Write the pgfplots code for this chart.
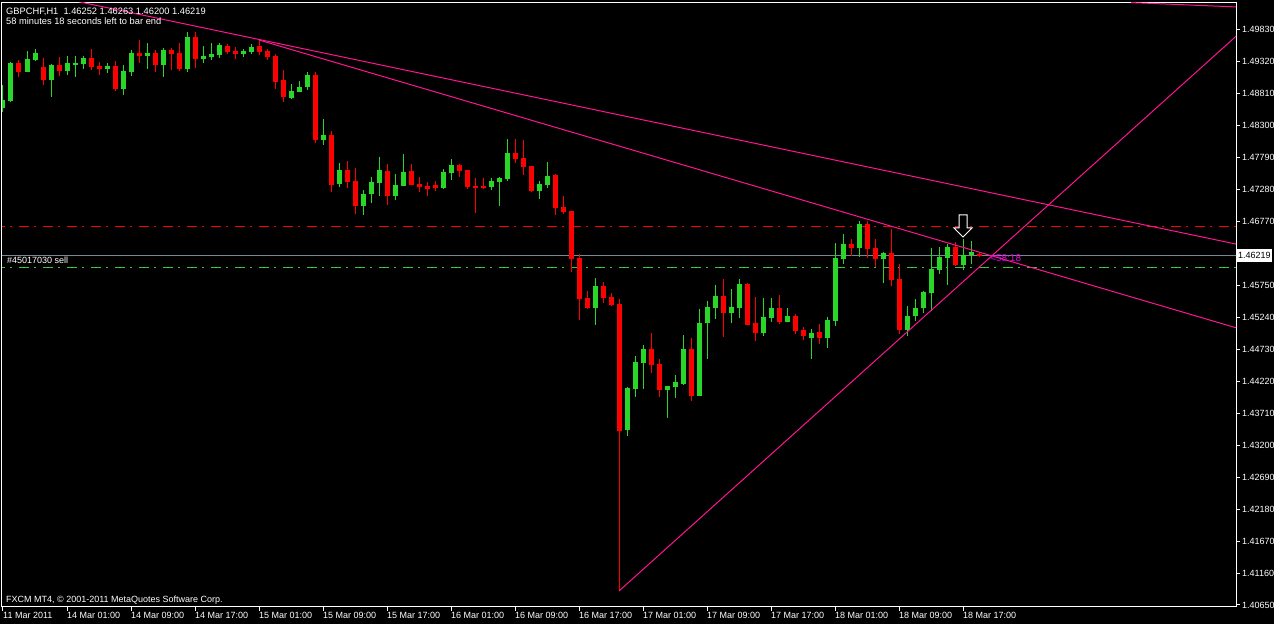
\documentclass[border=0pt]{standalone}
\usepackage{pgfplots}
\usepackage{pgfplotstable}
\pgfplotsset{compat=1.18}
\usepackage{fontspec}
\setmainfont{Liberation Sans}

\definecolor{bull}{RGB}{40,215,40}
\definecolor{bear}{RGB}{255,0,0}
\definecolor{trend}{RGB}{255,20,147}
\definecolor{bidline}{RGB}{119,136,153}
\definecolor{orderline}{RGB}{50,205,50}
\definecolor{timer}{RGB}{225,0,225}

% GBPCHF H1 bars: index, open, high, low, close
\pgfplotstableread{
i o h l c
0 1.48575 1.48942 1.48511 1.48702
1 1.48687 1.49308 1.48671 1.49292
2 1.49292 1.49340 1.49069 1.49149
3 1.49149 1.49484 1.49149 1.49356
4 1.49340 1.49516 1.49324 1.49452
5 1.49229 1.49372 1.48942 1.49021
6 1.49021 1.49277 1.48750 1.49261
7 1.49261 1.49388 1.49085 1.49165
8 1.49165 1.49404 1.49101 1.49292
9 1.49277 1.49404 1.49069 1.49292
10 1.49277 1.49404 1.49197 1.49372
11 1.49372 1.49516 1.49181 1.49229
12 1.49245 1.49308 1.49101 1.49197
13 1.49197 1.49292 1.49133 1.49245
14 1.49245 1.49324 1.48846 1.48878
15 1.48878 1.49261 1.48782 1.49165
16 1.49149 1.49500 1.49085 1.49452
17 1.49452 1.49659 1.49292 1.49404
18 1.49404 1.49611 1.49197 1.49452
19 1.49452 1.49500 1.49149 1.49261
20 1.49261 1.49532 1.49069 1.49500
21 1.49500 1.49532 1.49181 1.49436
22 1.49452 1.49611 1.49165 1.49197
23 1.49197 1.49787 1.49149 1.49707
24 1.49707 1.49787 1.49213 1.49356
25 1.49356 1.49564 1.49292 1.49404
26 1.49388 1.49611 1.49340 1.49436
27 1.49420 1.49611 1.49372 1.49579
28 1.49564 1.49595 1.49436 1.49468
29 1.49484 1.49548 1.49356 1.49436
30 1.49436 1.49516 1.49388 1.49484
31 1.49468 1.49595 1.49436 1.49548
32 1.49564 1.49659 1.49420 1.49468
33 1.49484 1.49516 1.49340 1.49388
34 1.49404 1.49436 1.48878 1.48989
35 1.49021 1.49181 1.48671 1.48750
36 1.48734 1.48958 1.48718 1.48846
37 1.48830 1.49005 1.48830 1.48910
38 1.48910 1.49149 1.48862 1.49101
39 1.49101 1.49149 1.48017 1.48065
40 1.48065 1.48399 1.47985 1.48144
41 1.48144 1.48208 1.47235 1.47347
42 1.47363 1.47698 1.47315 1.47586
43 1.47586 1.47730 1.47299 1.47395
44 1.47411 1.47618 1.46885 1.47012
45 1.47012 1.47267 1.46869 1.47204
46 1.47204 1.47475 1.47060 1.47395
47 1.47379 1.47794 1.47172 1.47586
48 1.47570 1.47682 1.47028 1.47172
49 1.47172 1.47522 1.47108 1.47347
50 1.47331 1.47841 1.47331 1.47554
51 1.47570 1.47682 1.47347 1.47347
52 1.47363 1.47475 1.47235 1.47315
53 1.47331 1.47395 1.47172 1.47283
54 1.47347 1.47411 1.47251 1.47299
55 1.47299 1.47602 1.47283 1.47554
56 1.47538 1.47762 1.47427 1.47666
57 1.47666 1.47682 1.47475 1.47570
58 1.47586 1.47586 1.47283 1.47315
59 1.47331 1.47459 1.46901 1.47315
60 1.47331 1.47459 1.47283 1.47299
61 1.47315 1.47459 1.47267 1.47411
62 1.47395 1.47475 1.47012 1.47459
63 1.47443 1.48081 1.47411 1.47857
64 1.47857 1.48081 1.47698 1.47762
65 1.47778 1.48065 1.47506 1.47634
66 1.47650 1.47650 1.47235 1.47251
67 1.47251 1.47411 1.47124 1.47363
68 1.47347 1.47714 1.47299 1.47491
69 1.47506 1.47522 1.46869 1.46980
70 1.46996 1.47172 1.46885 1.46916
71 1.46932 1.46932 1.45960 1.46167
72 1.46183 1.46247 1.45194 1.45529
73 1.45545 1.45657 1.45370 1.45386
74 1.45386 1.45864 1.45115 1.45736
75 1.45736 1.45800 1.45465 1.45545
76 1.45561 1.45625 1.45418 1.45434
77 1.45449 1.45529 1.40873 1.43424
78 1.43440 1.44126 1.43345 1.44110
79 1.44094 1.44620 1.43966 1.44525
80 1.44509 1.44796 1.44094 1.44732
81 1.44732 1.44987 1.44349 1.44477
82 1.44493 1.44572 1.43966 1.44078
83 1.44078 1.44142 1.43632 1.44142
84 1.44126 1.44317 1.43951 1.44206
85 1.44174 1.44955 1.44158 1.44732
86 1.44732 1.44907 1.43903 1.43982
87 1.43982 1.45370 1.43982 1.45146
88 1.45146 1.45497 1.44572 1.45402
89 1.45386 1.45752 1.45210 1.45577
90 1.45577 1.45848 1.44923 1.45306
91 1.45306 1.45689 1.45146 1.45402
92 1.45386 1.45848 1.45226 1.45768
93 1.45768 1.45784 1.45115 1.45115
94 1.45146 1.45561 1.44859 1.44987
95 1.44987 1.45545 1.44939 1.45242
96 1.45226 1.45545 1.45162 1.45386
97 1.45386 1.45593 1.45130 1.45162
98 1.45162 1.45386 1.45162 1.45258
99 1.45258 1.45290 1.44971 1.45019
100 1.45035 1.45083 1.44875 1.44939
101 1.44907 1.45051 1.44572 1.44987
102 1.45003 1.45130 1.44812 1.44907
103 1.44907 1.45242 1.44748 1.45194
104 1.45178 1.46422 1.45099 1.46183
105 1.46167 1.46566 1.46087 1.46406
106 1.46406 1.46486 1.46215 1.46342
107 1.46342 1.46773 1.46199 1.46725
108 1.46725 1.46773 1.46183 1.46326
109 1.46342 1.46486 1.46039 1.46167
110 1.46167 1.46279 1.45784 1.46263
111 1.46263 1.46645 1.45736 1.45832
112 1.45848 1.46087 1.44971 1.45035
113 1.45035 1.45418 1.44939 1.45258
114 1.45258 1.45529 1.45178 1.45386
115 1.45386 1.45657 1.45306 1.45641
116 1.45625 1.46342 1.45338 1.46008
117 1.45992 1.46358 1.45928 1.46199
118 1.46183 1.46406 1.45752 1.46358
119 1.46358 1.46438 1.46055 1.46071
120 1.46071 1.46486 1.45992 1.46231
121 1.46231 1.46454 1.46087 1.46279
122 1.46252 1.46263 1.46200 1.46219
}\candles

\begin{document}
\begin{tikzpicture}[font=\fontsize{9}{10}\selectfont]
\path[use as bounding box, fill=black] (0,0) rectangle (1274pt,624pt);
\begin{axis}[
    at={(2pt,17.5pt)}, anchor=south west,
    scale only axis,
    width=1234pt, height=604pt,
    xmin=-0.125, xmax=154.125,
    ymin=1.40626, ymax=1.50257,
    axis line style={white, line width=1pt},
    tick align=outside,
    major tick length=4pt,
    tick style={white, line width=1pt},
    xtick pos=left,
    ytick pos=right,
    yticklabel pos=right,
    xtick={0,8,...,120},
    xticklabels={11 Mar 2011, 14 Mar 01:00, 14 Mar 09:00, 14 Mar 17:00, 15 Mar 01:00, 15 Mar 09:00, 15 Mar 17:00, 16 Mar 01:00, 16 Mar 09:00, 16 Mar 17:00, 17 Mar 01:00, 17 Mar 09:00, 17 Mar 17:00, 18 Mar 01:00, 18 Mar 09:00, 18 Mar 17:00},
    ytick={1.40650,1.41160,1.41670,1.42180,1.42690,1.43200,1.43710,1.44220,1.44730,1.45240,1.45750,1.46770,1.47280,1.47790,1.48300,1.48810,1.49320,1.49830},
    yticklabels={1.40650,1.41160,1.41670,1.42180,1.42690,1.43200,1.43710,1.44220,1.44730,1.45240,1.45750,1.46770,1.47280,1.47790,1.48300,1.48810,1.49320,1.49830},
    xticklabel style={white, anchor=north west, inner sep=0pt, yshift=-2pt},
    yticklabel style={white, anchor=west, inner sep=0pt, xshift=2pt},
    candle/.style={draw=none, mark=none,
        error bars/.cd, y dir=both, y explicit, error mark=none,
        error bar style={draw=#1, solid}},
]
% order lines
\addplot[bear, line width=1pt, dash pattern=on 10pt off 5pt on 2pt off 7pt] coordinates {(-1,1.46688) (155,1.46688)};
\addplot[orderline, line width=1pt, dash pattern=on 10pt off 5pt on 2pt off 7pt] coordinates {(-1,1.46035) (155,1.46035)};
\addplot[bidline, line width=1pt] coordinates {(-1,1.46219) (155,1.46219)};

% wicks
\addplot[x filter/.expression={\thisrow{c}>=\thisrow{o} ? x : nan},
    candle=bull, error bar style={line width=1pt}]
    table[x=i, y expr={(\thisrow{h}+\thisrow{l})/2}, y error expr={(\thisrow{h}-\thisrow{l})/2}] {\candles};
\addplot[x filter/.expression={\thisrow{c}<\thisrow{o} ? x : nan},
    candle=bear, error bar style={line width=1pt}]
    table[x=i, y expr={(\thisrow{h}+\thisrow{l})/2}, y error expr={(\thisrow{h}-\thisrow{l})/2}] {\candles};
% bodies
\addplot[x filter/.expression={\thisrow{c}>=\thisrow{o} ? x : nan},
    candle=bull, error bar style={line width=5pt}]
    table[x=i, y expr={(\thisrow{o}+\thisrow{c})/2}, y error expr={max(abs(\thisrow{c}-\thisrow{o})/2,0.00004)}] {\candles};
\addplot[x filter/.expression={\thisrow{c}<\thisrow{o} ? x : nan},
    candle=bear, error bar style={line width=5pt}]
    table[x=i, y expr={(\thisrow{o}+\thisrow{c})/2}, y error expr={max(abs(\thisrow{c}-\thisrow{o})/2,0.00004)}] {\candles};

% trend lines
\addplot[trend, line width=1pt] coordinates {(-2,1.50576) (156,1.46355)};
\addplot[trend, line width=1pt] coordinates {(32,1.49659) (156,1.45000)};
\addplot[trend, line width=1pt] coordinates {(77,1.40873) (156,1.49933)};
\addplot[trend, line width=1pt] coordinates {(141,1.50256) (156,1.50176)};

\coordinate (arr) at (axis cs:120,1.46518);
\end{axis}

\draw[white, fill=black, line width=1pt, shift={(arr)}]
    (0pt,0pt) -- (-9pt,9pt) -- (-4pt,9pt) -- (-4pt,22pt) -- (4pt,22pt) -- (4pt,9pt) -- (9pt,9pt) -- cycle;

\node[anchor=base west, white, inner sep=0pt] at (6pt,609.7pt) {\fontsize{9.3}{10}\selectfont GBPCHF,H1\ \ 1.46252 1.46263 1.46200 1.46219};
\node[anchor=base west, white, inner sep=0pt] at (6pt,599.7pt) {\fontsize{9.3}{10}\selectfont 58 minutes 18 seconds left to bar end};
\node[anchor=base west, white, inner sep=0pt] at (7pt,360.7pt) {\#45017030 sell};
\node[anchor=base west, white, inner sep=0pt] at (6pt,22pt) {FXCM MT4, © 2001-2011 MetaQuotes Software Corp.};
\node[anchor=base west, timer, inner sep=0pt] at (990pt,362.3pt) {\fontsize{10}{11}\selectfont <58:18};
\node[anchor=west, fill=white, text=black, inner sep=1pt, minimum height=13pt] at (1237pt,368.5pt) {1.46219};
\end{tikzpicture}
\end{document}
